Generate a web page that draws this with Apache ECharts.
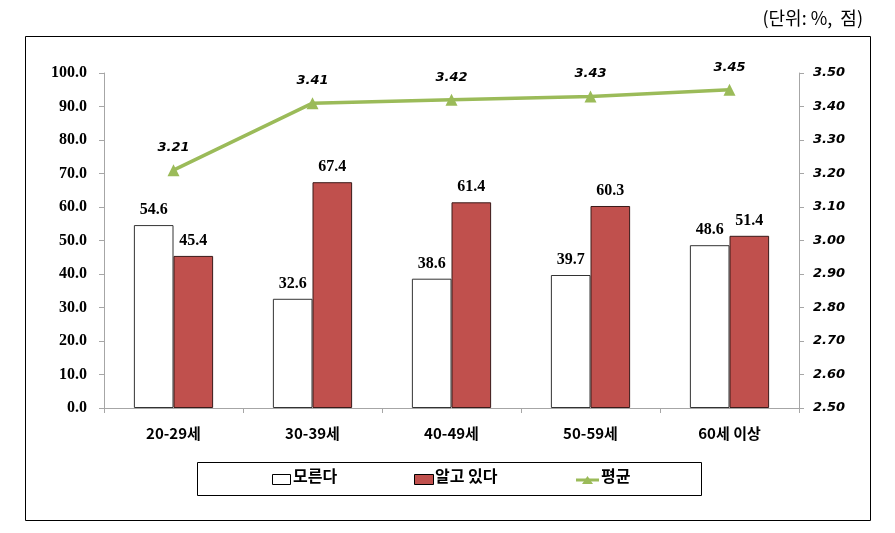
<!DOCTYPE html>
<html>
<head>
<meta charset="utf-8">
<script src="https://cdn.jsdelivr.net/npm/echarts@6/dist/echarts.min.js"></script>
<style>
  html, body { margin: 0; padding: 0; background: #fff; }
  #chart { width: 895px; height: 533px; }
</style>
</head>
<body>
<div id="chart"></div>
<script>
const categories = ['20-29세', '30-39세', '40-49세', '50-59세', '60세 이상'];
const dontKnow = [54.6, 32.6, 38.6, 39.7, 48.6];
const know = [45.4, 67.4, 61.4, 60.3, 51.4];
const average = [3.21, 3.41, 3.42, 3.43, 3.45];

const serifBold = { fontFamily: '"Liberation Serif", "Times New Roman", serif', fontWeight: 'bold', fontSize: 16, color: '#000' };
const sansItalic = { fontFamily: '"DejaVu Sans", Verdana, sans-serif', fontWeight: 'bold', fontStyle: 'italic', fontSize: 13, color: '#000' };
const korean = '"Noto Sans CJK KR", sans-serif';

const chart = echarts.init(document.getElementById('chart'));

const option = {
  animation: false,
  backgroundColor: '#fff',
  grid: { left: 104, right: 96, top: 73, bottom: 125 },
  legend: { show: false },
  graphic: [
    { type: 'rect', shape: { x: 25.5, y: 36.5, width: 845, height: 484 }, style: { fill: 'none', stroke: '#000', lineWidth: 1 } },
    { type: 'rect', shape: { x: 197.5, y: 462.5, width: 504, height: 33 }, style: { fill: 'none', stroke: '#000', lineWidth: 1 } },
    { type: 'text', right: 32, top: 9, style: { text: '(단위: %,  점)', font: '18px ' + korean, fill: '#000' } },
    // legend items
    { type: 'rect', shape: { x: 272.5, y: 474.5, width: 18, height: 10 }, style: { fill: '#fff', stroke: '#000', lineWidth: 1 } },
    { type: 'text', left: 293, top: 468, style: { text: '모른다', font: 'bold 16px ' + korean, fill: '#000' } },
    { type: 'rect', shape: { x: 414.5, y: 474.5, width: 19, height: 10 }, style: { fill: '#C0504D', stroke: '#000', lineWidth: 1 } },
    { type: 'text', left: 435, top: 468, style: { text: '알고 있다', font: 'bold 16px ' + korean, fill: '#000' } },
    { type: 'line', shape: { x1: 576, y1: 480, x2: 599, y2: 480 }, style: { stroke: '#9BBB59', lineWidth: 3 } },
    { type: 'polygon', shape: { points: [[582, 484], [593, 484], [587.5, 476]] }, style: { fill: '#9BBB59' } },
    { type: 'text', left: 601, top: 468, style: { text: '평균', font: 'bold 16px ' + korean, fill: '#000' } }
  ],
  xAxis: {
    type: 'category',
    data: categories,
    axisLine: { lineStyle: { color: '#a6a6a6' } },
    axisTick: { show: true, length: 5, lineStyle: { color: '#a6a6a6' } },
    axisLabel: { margin: 18, fontFamily: korean, fontWeight: 'bold', fontSize: 15, color: '#000' }
  },
  yAxis: [
    {
      type: 'value', min: 0, max: 100, interval: 10,
      axisLine: { show: true, lineStyle: { color: '#a6a6a6' } },
      axisTick: { show: true, length: 5, lineStyle: { color: '#a6a6a6' } },
      splitLine: { show: false },
      axisLabel: Object.assign({ margin: 17, formatter: v => v.toFixed(1) }, serifBold)
    },
    {
      type: 'value', min: 2.5, max: 3.5, interval: 0.1,
      position: 'right',
      axisLine: { show: true, lineStyle: { color: '#a6a6a6' } },
      axisTick: { show: true, length: 5, lineStyle: { color: '#a6a6a6' } },
      splitLine: { show: false },
      axisLabel: Object.assign({ margin: 14, formatter: v => v.toFixed(2) }, sansItalic)
    }
  ],
  series: [
    {
      name: '모른다', type: 'bar', data: dontKnow,
      barGap: '0%', barCategoryGap: '43%',
      itemStyle: { color: '#fff', borderColor: '#333', borderWidth: 1 },
      label: Object.assign({ show: true, position: 'top', distance: 7, formatter: p => p.value.toFixed(1) }, serifBold)
    },
    {
      name: '알고 있다', type: 'bar', data: know,
      itemStyle: { color: '#C0504D', borderColor: '#3a1a19', borderWidth: 1 },
      label: Object.assign({ show: true, position: 'top', distance: 7, formatter: p => p.value.toFixed(1) }, serifBold)
    },
    {
      name: '평균', type: 'line', yAxisIndex: 1, data: average,
      symbol: 'triangle', symbolSize: 12,
      lineStyle: { color: '#9BBB59', width: 3.5 },
      itemStyle: { color: '#9BBB59' },
      label: Object.assign({ show: true, position: 'top', distance: 10, formatter: p => p.value.toFixed(2) }, sansItalic)
    }
  ]
};

chart.setOption(option);
</script>
</body>
</html>
